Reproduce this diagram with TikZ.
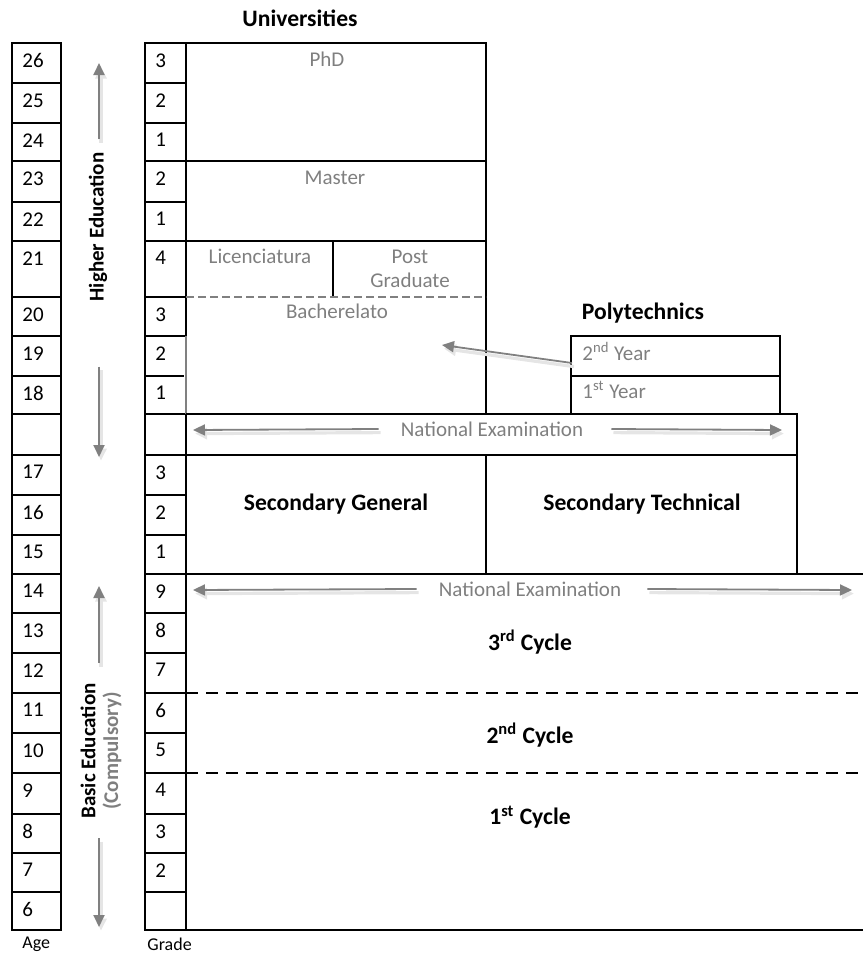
\documentclass[tikz,border=0pt]{standalone}
\usepackage{fontspec}
\setmainfont{Carlito}
\usetikzlibrary{arrows.meta}

\definecolor{textGrey}{HTML}{7F7F7F}
\definecolor{arrowGrey}{HTML}{808080}

\begin{document}
\begin{tikzpicture}[x=0.5pt, y=-0.5pt,
    cellLine/.style={line width=1.4pt},
    cellNum/.style={anchor=north west, inner sep=0pt, font=\fontsize{10.5}{12}\selectfont},
    greyText/.style={text=textGrey, inner sep=1pt, font=\fontsize{10.5}{12}\selectfont},
    boldText/.style={inner sep=1pt, font=\fontsize{11.8}{13}\selectfont\bfseries},
    sideText/.style={inner sep=1pt, rotate=90, font=\fontsize{10.5}{12}\selectfont\bfseries},
    greyArrow/.style={draw=arrowGrey, line width=0.9pt, -{Triangle[length=6pt, width=5.5pt]},
        preaction={draw=black!10, line width=1.6pt, transform canvas={shift={(1pt,-1.8pt)}}}},
    greyDash/.style={draw=arrowGrey, line width=1.1pt, dash pattern=on 4pt off 2pt},
    blackDash/.style={line width=1.2pt, dash pattern=on 6pt off 4pt}]

    \useasboundingbox (0,0) rectangle (863,954);

    % Age and grade columns
    \foreach \t/\b/\a/\g [count=\i] in {43/83/26/3, 83/123/25/2, 123/161/24/1, 161/202/23/2,
        202/241/22/1, 241/297/21/4, 297/336/20/3, 336/376/19/2, 376/414/18/1, 414/455/{}/{},
        455/495/17/3, 495/535/16/2, 535/574/15/1, 574/613/14/9, 613/653/13/8, 653/693/12/7,
        693/733/11/6, 733/773/10/5, 773/814/9/4, 814/853/8/3, 853/892/7/2, 892/930/6/{}} {
        \draw[cellLine] (12,\t) rectangle (61,\b);
        \draw[cellLine] (145,\t) rectangle (186,\b);
        \node[cellNum] (age\i) at (22,\t+10) {\a};
        \node[cellNum] (grade\i) at (155,\t+10) {\g};
    }
    \draw[white, line width=1.6pt] (186,338) -- (186,412);
    \draw[arrowGrey, line width=1pt] (186,336) -- (186,414);

    \node[anchor=west, inner sep=0pt, font=\fontsize{9}{10}\selectfont] (ageLabel) at (22,944) {Age};
    \node[anchor=west, inner sep=0pt, font=\fontsize{9}{10}\selectfont] (gradeLabel) at (147,944) {Grade};

    % Universities
    \draw[cellLine] (186,43) -- (486,43) -- (486,414);
    \draw[cellLine] (186,161) -- (486,161);
    \draw[cellLine] (186,241) -- (486,241);
    \draw[cellLine] (333,241) -- (333,297);
    \draw[greyDash] (186,297) -- (486,297);

    \node[boldText] (univ) at (300,18) {Universities};
    \node[greyText] (phd) at (327,59) {PhD};
    \node[greyText] (master) at (335,178) {Master};
    \node[greyText] (lic) at (260,256) {Licenciatura};
    \node[greyText, align=center] (postGrad) at (410,269) {Post\\Graduate};
    \node[greyText] (bach) at (337,311) {Bacherelato};

    % Polytechnics
    \draw[cellLine] (571,336) rectangle (780,376);
    \draw[cellLine] (571,376) rectangle (780,414);
    \node[boldText] (poly) at (643,313) {Polytechnics};
    \node[greyText, anchor=west] (polyTwo) at (580,351) {2\textsuperscript{nd} Year};
    \node[greyText, anchor=west] (polyOne) at (580,390) {1\textsuperscript{st} Year};
    \coordinate (polyEdge) at (572,363);
    \coordinate (bachTip) at (442,345);
    \draw[greyArrow] (polyEdge) -- (bachTip);

    % National examination and secondary
    \draw[cellLine] (186,414) -- (797,414) -- (797,574);
    \draw[cellLine] (186,455) -- (797,455);
    \draw[cellLine] (486,455) -- (486,574);
    \node[greyText] (examOne) at (492,429) {National Examination};
    \coordinate (examOneLeft) at (193,430);
    \coordinate (examOneRight) at (782,430);
    \draw[greyArrow] ([xshift=-10pt]examOne.west) -- (examOneLeft);
    \draw[greyArrow] ([xshift=13pt]examOne.east) -- (examOneRight);

    \node[boldText] (secGen) at (336,504) {Secondary General};
    \node[boldText] (secTech) at (642,504) {Secondary Technical};

    % Basic education
    \draw[cellLine] (186,574) -- (863,574);
    \draw[blackDash] (186,693) -- (863,693);
    \draw[blackDash] (186,773) -- (863,773);
    \draw[cellLine] (186,930) -- (863,930);
    \node[greyText] (examTwo) at (530,589) {National Examination};
    \coordinate (examTwoLeft) at (193,590);
    \coordinate (examTwoRight) at (852,590);
    \draw[greyArrow] ([xshift=-10pt]examTwo.west) -- (examTwoLeft);
    \draw[greyArrow] ([xshift=12pt]examTwo.east) -- (examTwoRight);

    \node[boldText] (cycleThree) at (530,642) {3\textsuperscript{rd} Cycle};
    \node[boldText] (cycleTwo) at (530,735) {2\textsuperscript{nd} Cycle};
    \node[boldText] (cycleOne) at (530,817) {1\textsuperscript{st} Cycle};

    % Side labels
    \node[sideText] (higher) at (98,227) {Higher Education};
    \coordinate (higherTop) at (99,63);
    \coordinate (higherBottom) at (99,457);
    \path (higher.east -| higherTop) ++(0,-11) coordinate (higherUpTail);
    \path (higher.west -| higherTop) ++(0,63) coordinate (higherDownTail);
    \draw[greyArrow] (higherUpTail) -- (higherTop);
    \draw[greyArrow] (higherDownTail) -- (higherBottom);

    \node[sideText] (basic) at (88,751) {Basic Education};
    \node[sideText, text=textGrey] (compulsory) at (112,751) {(Compulsory)};
    \coordinate (basicTop) at (99,586);
    \coordinate (basicBottom) at (99,927);
    \path (basic.east -| basicTop) ++(0,-18) coordinate (basicUpTail);
    \path (basic.west -| basicTop) ++(0,17) coordinate (basicDownTail);
    \draw[greyArrow] (basicUpTail) -- (basicTop);
    \draw[greyArrow] (basicDownTail) -- (basicBottom);

\end{tikzpicture}
\end{document}
